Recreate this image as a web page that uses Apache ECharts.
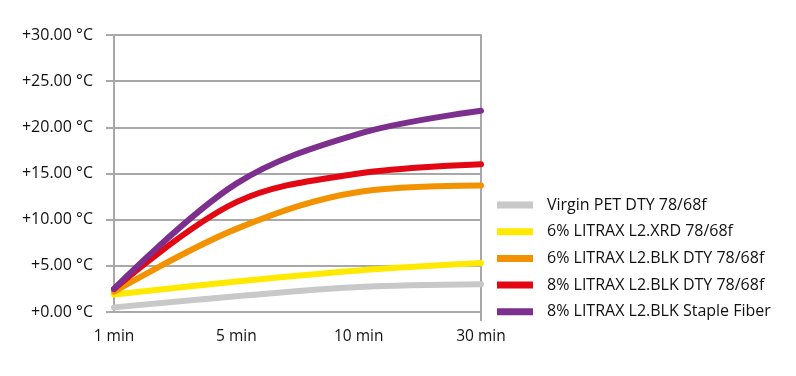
<!DOCTYPE html>
<html>
<head>
<meta charset="utf-8">
<script src="https://cdn.jsdelivr.net/npm/echarts@6/dist/echarts.min.js"></script>
<style>
  html, body { margin: 0; padding: 0; background: #fff; }
  #chart { width: 796px; height: 376px; }
</style>
</head>
<body>
<div id="chart"></div>
<script>
// time points on the x axis
const categories = ['1 min', '5 min', '10 min', '30 min']
// temperature rise per sample (°C)
const seriesNames = [
  'Virgin PET DTY 78/68f',
  '6% LITRAX L2.XRD 78/68f',
  '6% LITRAX L2.BLK DTY 78/68f',
  '8% LITRAX L2.BLK DTY 78/68f',
  '8% LITRAX L2.BLK Staple Fiber'
]
const virginPet = [0.5, 1.7, 2.7, 3.0]
const xrd6 = [1.9, 3.3, 4.5, 5.3]
const blkDty6 = [2.2, 9.0, 13.0, 13.7]
const blkDty8 = [2.5, 11.9, 15.0, 16.0]
const staple8 = [2.5, 13.9, 19.3, 21.8]
const colors = ['#c8c8c8', '#ffe900', '#f39200', '#e30613', '#7d2f8e']

const chart = echarts.init(document.getElementById('chart'))
const allData = [virginPet, xrd6, blkDty6, blkDty8, staple8]
const font = 'Open Sans, Noto Sans, sans-serif'

const option = {
  animation: false,
  grid: { left: 114, right: 315, top: 35, bottom: 64 },
  legend: {
    orient: 'vertical',
    left: 497,
    top: 196,
    padding: 0,
    icon: 'rect',
    itemWidth: 36,
    itemHeight: 7,
    itemGap: 8.7,
    textStyle: { fontFamily: font, fontSize: 16, color: '#111', lineHeight: 18, padding: [0, 0, 0, 9] },
    data: seriesNames
  },
  xAxis: {
    type: 'category',
    data: categories,
    boundaryGap: false,
    axisLine: { lineStyle: { color: '#a8a8a8', width: 2 } },
    axisTick: {
      show: true,
      length: 9,
      interval: (i) => i === categories.length - 1,
      lineStyle: { color: '#a8a8a8', width: 2 }
    },
    axisLabel: { fontFamily: font, fontSize: 15.5, color: '#111', margin: 17 }
  },
  yAxis: [
    {
      type: 'value',
      min: 0,
      max: 30,
      interval: 5,
      axisLine: { show: true, lineStyle: { color: '#a8a8a8', width: 2 } },
      axisTick: { show: true, length: 8, lineStyle: { color: '#a8a8a8', width: 2 } },
      splitLine: { lineStyle: { color: '#a8a8a8', width: 2 } },
      axisLabel: {
        fontFamily: font,
        fontSize: 16,
        color: '#111',
        margin: 21,
        formatter: (v) => '+' + v.toFixed(2) + ' °C'
      }
    },
    {
      type: 'value',
      position: 'right',
      min: 0,
      max: 30,
      interval: 5,
      axisLine: { show: true, lineStyle: { color: '#a8a8a8', width: 2 } },
      axisTick: { show: false },
      axisLabel: { show: false },
      splitLine: { show: false }
    }
  ],
  series: seriesNames.map((name, i) => ({
    name,
    type: 'line',
    data: allData[i],
    smooth: 0.35,
    symbol: 'none',
    color: colors[i],
    lineStyle: { width: 6, color: colors[i], cap: 'round' }
  }))
}
chart.setOption(option)
</script>
</body>
</html>
